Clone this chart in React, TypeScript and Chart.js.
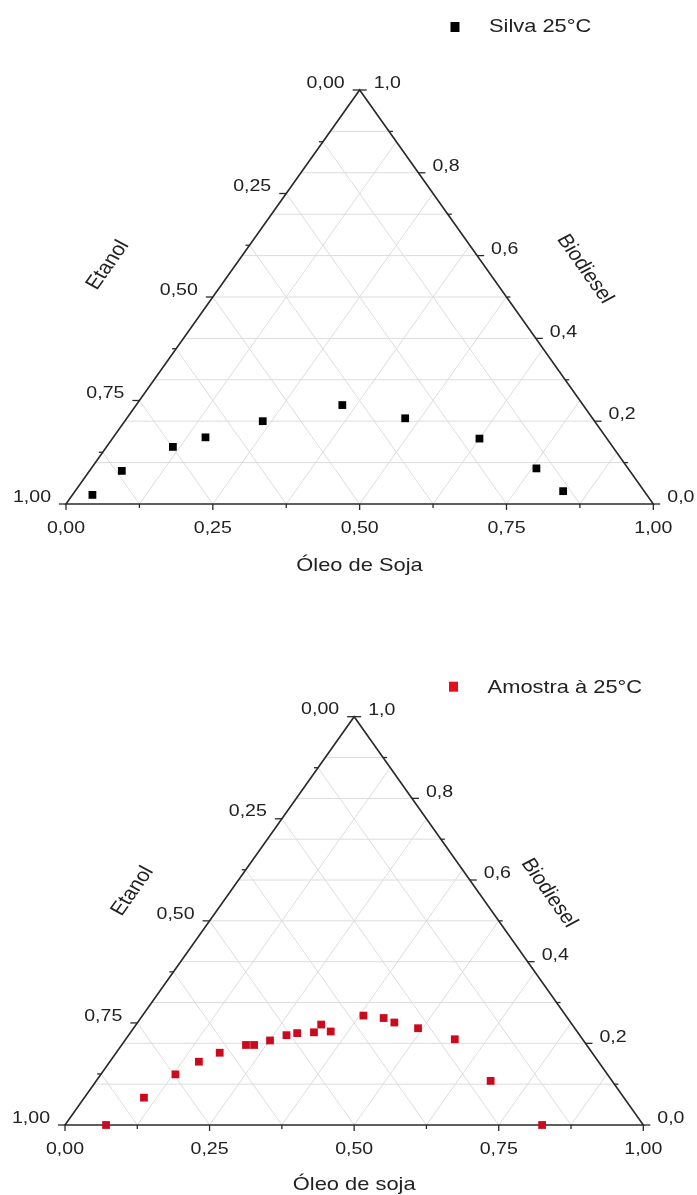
import React, { useEffect, useRef } from "react";
import { Chart, registerables } from "chart.js";

Chart.register(...registerables);

// ---------- Data (ternary mass fractions) ----------
// Chart 1: Silva 25°C
const silvaOleo = [0.034, 0.055, 0.113, 0.157, 0.235, 0.351, 0.474, 0.625, 0.758, 0.831];
const silvaBiodiesel = [0.022, 0.080, 0.138, 0.161, 0.200, 0.239, 0.207, 0.158, 0.086, 0.031];
const silvaEtanol = [0.944, 0.865, 0.749, 0.682, 0.565, 0.410, 0.319, 0.217, 0.156, 0.138];

// Chart 2: Amostra à 25°C
const amostraOleo = [0.071, 0.103, 0.129, 0.154, 0.179, 0.215, 0.229, 0.251, 0.273, 0.289, 0.317, 0.320, 0.345, 0.382, 0.420, 0.444, 0.492, 0.569, 0.682, 0.825];
const amostraBiodiesel = [0.000, 0.067, 0.124, 0.155, 0.177, 0.196, 0.196, 0.207, 0.220, 0.225, 0.227, 0.246, 0.229, 0.268, 0.262, 0.251, 0.237, 0.210, 0.108, 0.000];
const amostraEtanol = [0.929, 0.830, 0.747, 0.691, 0.644, 0.589, 0.575, 0.542, 0.507, 0.486, 0.456, 0.434, 0.426, 0.350, 0.318, 0.305, 0.271, 0.221, 0.210, 0.175];

// Tick labels / ticks
const etanolTickLabels = [0, 0.25, 0.5, 0.75, 1];
const etanolMinorTicks = [0.125, 0.375, 0.625, 0.875];
const oleoTickLabels = [0, 0.25, 0.5, 0.75, 1];
const oleoMinorTicks = [0.125, 0.375, 0.625, 0.875];
const biodieselTickLabels = [0, 0.2, 0.4, 0.6, 0.8, 1.0];
const biodieselMinorTicks = [0.1, 0.3, 0.5, 0.7, 0.9];
// Grid
const gridBiodiesel = [0.1, 0.2, 0.3, 0.4, 0.5, 0.6, 0.7, 0.8, 0.9];
const gridOleo = [0.125, 0.25, 0.375, 0.5, 0.625, 0.75, 0.875];
const gridEtanol = [0.125, 0.25, 0.375, 0.5, 0.625, 0.75, 0.875];

// ---------- Styling ----------
const SX = 1.15; // horizontal text stretch of the original picture
const FONT_FAMILY = '"Liberation Sans", Arial, sans-serif';
const TICK_FONT = `17px ${FONT_FAMILY}`;
const TITLE_FONT = `19px ${FONT_FAMILY}`;
const LEGEND_FONT = `19px ${FONT_FAMILY}`;
const TEXT_COLOR = "#222222";
const AXIS_COLOR = "#2a2a2a";
const GRID_COLOR = "#dcdcdc";

function fmt2(v: number) {
  return v.toFixed(2).replace(".", ",");
}
function fmt1(v: number) {
  return v.toFixed(1).replace(".", ",");
}

function drawText(
  ctx: CanvasRenderingContext2D,
  s: string,
  x: number,
  y: number,
  align: CanvasTextAlign,
  font: string,
  rot = 0
) {
  ctx.save();
  ctx.translate(x, y);
  ctx.scale(SX, 1);
  if (rot) ctx.rotate(rot);
  ctx.font = font;
  ctx.fillStyle = TEXT_COLOR;
  ctx.textAlign = align;
  ctx.textBaseline = "middle";
  ctx.fillText(s, 0, 0);
  ctx.restore();
}

type Deco = {
  legendLabel: string;
  legendColor: string;
  legendMarker: { x: number; y: number };
  legendText: { x: number; y: number };
  bottomTitle: string;
  bottomTitlePos: { x: number; y: number };
  leftTitlePos: { x: number; y: number };
  rightTitlePos: { x: number; y: number };
};

function makeTernaryPlugin(deco: Deco) {
  return {
    id: "ternaryFrame",
    beforeDatasetsDraw(chart: any) {
      const ctx: CanvasRenderingContext2D = chart.ctx;
      const xs = chart.scales.x;
      const ys = chart.scales.y;
      // position from (oleo, biodiesel); etanol = rest
      const P = (o: number, b: number): [number, number] => [
        xs.getPixelForValue(o + b / 2),
        ys.getPixelForValue(b),
      ];
      const line = (a: [number, number], b: [number, number]) => {
        ctx.beginPath();
        ctx.moveTo(a[0], a[1]);
        ctx.lineTo(b[0], b[1]);
        ctx.stroke();
      };

      ctx.save();
      // grid
      ctx.strokeStyle = GRID_COLOR;
      ctx.lineWidth = 1;
      gridBiodiesel.forEach((b) => line(P(0, b), P(1 - b, b)));
      gridOleo.forEach((o) => line(P(o, 0), P(o, 1 - o)));
      gridEtanol.forEach((e) => line(P(1 - e, 0), P(0, 1 - e)));

      // frame
      const BL = P(0, 0);
      const BR = P(1, 0);
      const TOP = P(0, 1);
      ctx.strokeStyle = AXIS_COLOR;
      ctx.lineWidth = 1.6;
      ctx.beginPath();
      ctx.moveTo(BL[0], BL[1]);
      ctx.lineTo(BR[0], BR[1]);
      ctx.lineTo(TOP[0], TOP[1]);
      ctx.closePath();
      ctx.stroke();

      // ticks
      ctx.lineWidth = 1.3;
      const leftTick = (e: number, len: number) => {
        const p = P(0, 1 - e);
        line(p, [p[0] - len, p[1]]);
      };
      const rightTick = (b: number, len: number) => {
        const p = P(1 - b, b);
        line(p, [p[0] + len, p[1]]);
      };
      const bottomTick = (o: number, len: number) => {
        const p = P(o, 0);
        line(p, [p[0], p[1] + len]);
      };
      etanolTickLabels.forEach((e) => leftTick(e, 7));
      etanolMinorTicks.forEach((e) => leftTick(e, 4));
      biodieselTickLabels.forEach((b) => rightTick(b, 7));
      biodieselMinorTicks.forEach((b) => rightTick(b, 4));
      oleoTickLabels.forEach((o) => bottomTick(o, 6));
      oleoMinorTicks.forEach((o) => bottomTick(o, 4));

      // tick labels
      etanolTickLabels.forEach((e) => {
        const p = P(0, 1 - e);
        drawText(ctx, fmt2(e), p[0] - 15, p[1] - 7, "right", TICK_FONT);
      });
      biodieselTickLabels.forEach((b) => {
        const p = P(1 - b, b);
        drawText(ctx, fmt1(b), p[0] + 14, p[1] - 6.5, "left", TICK_FONT);
      });
      oleoTickLabels.forEach((o) => {
        const p = P(o, 0);
        drawText(ctx, fmt2(o), p[0], p[1] + 24, "center", TICK_FONT);
      });

      // axis titles
      const angL = Math.atan2(TOP[1] - BL[1], (TOP[0] - BL[0]) / SX);
      const angR = Math.atan2(BR[1] - TOP[1], (BR[0] - TOP[0]) / SX);
      drawText(ctx, deco.bottomTitle, deco.bottomTitlePos.x, deco.bottomTitlePos.y, "center", TITLE_FONT);
      drawText(ctx, "Etanol", deco.leftTitlePos.x, deco.leftTitlePos.y, "center", TITLE_FONT, angL);
      drawText(ctx, "Biodiesel", deco.rightTitlePos.x, deco.rightTitlePos.y, "center", TITLE_FONT, angR);

      // legend
      ctx.fillStyle = deco.legendColor;
      ctx.fillRect(deco.legendMarker.x - 4.5, deco.legendMarker.y - 5, 9, 10);
      drawText(ctx, deco.legendLabel, deco.legendText.x, deco.legendText.y, "left", LEGEND_FONT);
      ctx.restore();
    },
  };
}

type Props = {
  width: number;
  height: number;
  padding: { left: number; right: number; top: number; bottom: number };
  label: string;
  color: string;
  oleo: number[];
  biodiesel: number[];
  etanol: number[];
  deco: Deco;
};

function TernaryChart(props: Props) {
  const ref = useRef<HTMLCanvasElement>(null);
  useEffect(() => {
    const { oleo, biodiesel, etanol } = props;
    const points = oleo.map((o, i) => {
      const sum = o + biodiesel[i] + etanol[i];
      const on = o / sum;
      const bn = biodiesel[i] / sum;
      return { x: on + bn / 2, y: bn };
    });
    const chart = new Chart(ref.current as HTMLCanvasElement, {
      type: "scatter",
      data: {
        datasets: [
          {
            label: props.label,
            data: points,
            pointStyle: "rect",
            pointRadius: 5.5,
            pointHoverRadius: 5.5,
            backgroundColor: props.color,
            borderColor: props.color,
            borderWidth: 0,
            clip: false as any,
          },
        ],
      },
      options: {
        animation: false,
        responsive: false,
        events: [],
        layout: { padding: props.padding },
        plugins: {
          legend: { display: false },
          tooltip: { enabled: false },
          title: { display: false },
        },
        scales: {
          x: { type: "linear", min: 0, max: 1, display: false },
          y: { type: "linear", min: 0, max: 1, display: false },
        },
      },
      plugins: [makeTernaryPlugin(props.deco) as any],
    });
    return () => chart.destroy();
  }, []);
  return (
    <canvas
      ref={ref}
      width={props.width}
      height={props.height}
      style={{ display: "block", width: props.width, height: props.height }}
    />
  );
}

export default function App() {
  return (
    <div style={{ position: "absolute", left: 0, top: 0, width: 697, height: 1195, background: "#fff" }}>
      <TernaryChart
        width={697}
        height={600}
        padding={{ left: 66, right: 43.7, top: 90, bottom: 96 }}
        label="Silva 25°C"
        color="#000000"
        oleo={silvaOleo}
        biodiesel={silvaBiodiesel}
        etanol={silvaEtanol}
        deco={{
          legendLabel: "Silva 25°C",
          legendColor: "#000000",
          legendMarker: { x: 455, y: 27 },
          legendText: { x: 489, y: 27 },
          bottomTitle: "Óleo de Soja",
          bottomTitlePos: { x: 359.5, y: 566 },
          leftTitlePos: { x: 107.8, y: 265 },
          rightTitlePos: { x: 585, y: 269 },
        }}
      />
      <TernaryChart
        width={697}
        height={595}
        padding={{ left: 65, right: 53.7, top: 116.7, bottom: 70 }}
        label="Amostra à 25°C"
        color="#cc0a1e"
        oleo={amostraOleo}
        biodiesel={amostraBiodiesel}
        etanol={amostraEtanol}
        deco={{
          legendLabel: "Amostra à 25°C",
          legendColor: "#e3101c",
          legendMarker: { x: 453.5, y: 86.7 },
          legendText: { x: 487.6, y: 87.3 },
          bottomTitle: "Óleo de soja",
          bottomTitlePos: { x: 354.2, y: 584.5 },
          leftTitlePos: { x: 132.5, y: 291 },
          rightTitlePos: { x: 549, y: 293 },
        }}
      />
    </div>
  );
}
